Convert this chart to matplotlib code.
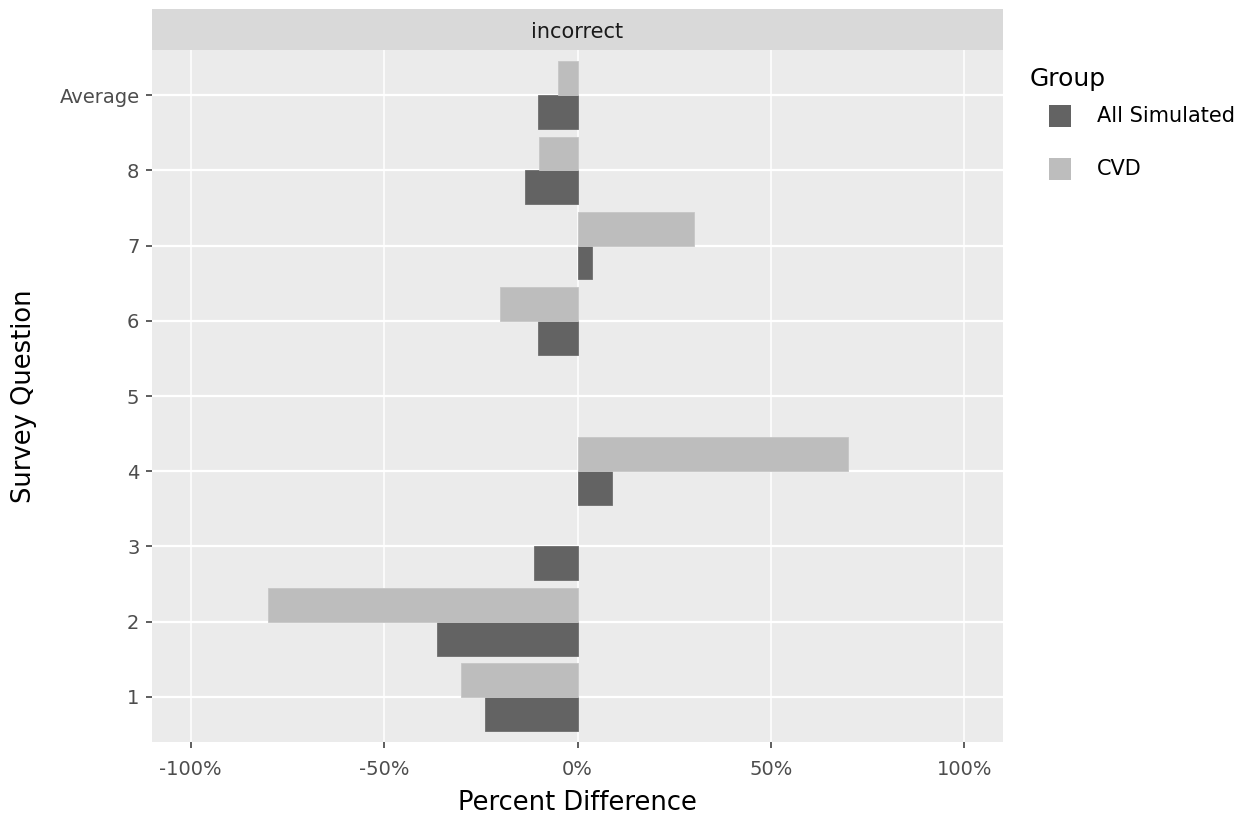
import matplotlib
matplotlib.use("Agg")
import matplotlib.pyplot as plt
import numpy as np
from matplotlib.patches import Rectangle

categories = ["1", "2", "3", "4", "5", "6", "7", "8", "Average"]
all_simulated = [-23.8, -36.3, -11.3, 8.8, 0.0, -10.1, 3.7, -13.7, -10.3]
cvd = [-30.0, -80.0, 0.0, 70.0, 0.0, -20.0, 30.0, -10.0, -5.0]
x_ticks = [-100, -50, 0, 50, 100]
x_ticklabels = ["-100%", "-50%", "0%", "50%", "100%"]
groups = ["All Simulated", "CVD"]
colors = {"All Simulated": "#636363", "CVD": "#bdbdbd"}
edges = {"All Simulated": "#6e6e6e", "CVD": "#c6c6c6"}

plt.rcParams['font.family'] = ['DejaVu Sans']

W, H = 1248, 816
fig = plt.figure(figsize=(W / 100, H / 100), dpi=100)
L, R, B, T = 152 / W, 1003 / W, 1 - 742 / H, 1 - 50 / H
ax = fig.add_axes([L, B, R - L, T - B])
ax.set_facecolor("#EBEBEB")

y = np.arange(1, len(categories) + 1)
bw = 0.45
for vals, g, off in [(all_simulated, "All Simulated", -bw / 2), (cvd, "CVD", bw / 2)]:
    ec = [edges[g] if v != 0 else "none" for v in vals]
    ax.barh(y + off, vals, height=bw, color=colors[g], edgecolor=ec,
            linewidth=0.6, zorder=3, label=g)

ax.set_xlim(-110, 110)
ax.set_ylim(0.4, len(categories) + 0.6)
ax.set_xticks(x_ticks)
ax.set_xticklabels(x_ticklabels)
ax.set_yticks(y)
ax.set_yticklabels(categories)

for xv in x_ticks:
    ax.axvline(xv, color="white", linewidth=1.1, zorder=1)
for yv in y:
    ax.axhline(yv, color="white", linewidth=1.6, zorder=1)

for s in ax.spines.values():
    s.set_visible(False)
ax.tick_params(axis="both", colors="#333333", length=4, width=1.1,
               labelsize=14, labelcolor="#4D4D4D", pad=5)
ax.tick_params(axis="x", pad=9)

ax.set_xlabel("Percent Difference", fontsize=18.5, color="black", labelpad=8)
ax.set_ylabel("Survey Question", fontsize=18.5, color="black", labelpad=16)

# facet strip
sax = fig.add_axes([L, 1 - 50 / H, R - L, 41 / H])
sax.set_facecolor("#D9D9D9")
sax.set_xticks([]); sax.set_yticks([])
for s in sax.spines.values():
    s.set_visible(False)
sax.text(0.5, 0.45, "incorrect", ha="center", va="center", fontsize=15,
         color="#1A1A1A", transform=sax.transAxes)

# legend (ggplot-style)
fig.text(1030 / W, 1 - 79 / H, "Group", ha="left", va="center", fontsize=18, color="black")
key_tops = [105, 158]
for g, kt in zip(groups, key_tops):
    fig.patches.append(Rectangle((1049 / W, 1 - (kt + 22) / H), 22 / W, 22 / H,
                                 transform=fig.transFigure, facecolor=colors[g],
                                 edgecolor="none"))
    fig.text(1097 / W, 1 - (kt + 11) / H, g, ha="left", va="center",
             fontsize=15, color="black")

fig.savefig("out.png", dpi=100, facecolor="white")
